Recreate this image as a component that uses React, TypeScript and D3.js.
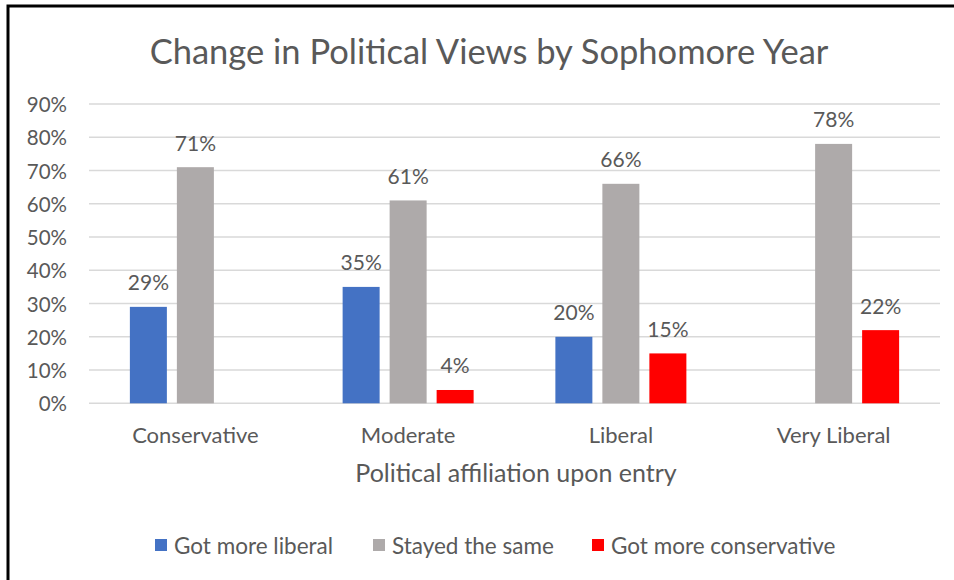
import React from "react";
import * as d3 from "d3";

const categories = ["Conservative", "Moderate", "Liberal", "Very Liberal"];
const seriesNames = ["Got more liberal", "Stayed the same", "Got more conservative"];
const gotMoreLiberal: (number | null)[] = [29, 35, 20, null];
const stayedSame: (number | null)[] = [71, 61, 66, 78];
const gotMoreConservative: (number | null)[] = [null, 4, 15, 22];
const yTicks = [0, 10, 20, 30, 40, 50, 60, 70, 80, 90];
const colors = ["#4472C4", "#AEAAAA", "#FF0000"];

const FONT = "Lato, 'Open Sans', sans-serif";
const TEXT = "#595959";

export default function App() {
  const W = 954, H = 580;
  const x0 = 89, x1 = 940;
  const yTop = 104, yBottom = 403.3;
  const x = d3.scaleBand<string>().domain(categories).range([x0, x1]).padding(0);
  const y = d3.scaleLinear().domain([0, 90]).range([yBottom, yTop]);
  const allSeries = [gotMoreLiberal, stayedSame, gotMoreConservative];
  const sub = d3
    .scaleBand<number>()
    .domain([0, 1, 2])
    .range([-70.5, 70.5])
    .paddingInner(10 / 47)
    .paddingOuter(5 / 47);

  const legendX = [155, 373, 592];

  return (
    <svg width={W} height={H} style={{ position: "absolute", left: 0, top: 0, background: "#fff" }}>
      <rect x={0} y={0} width={W} height={H} fill="#fff" />
      <path d={`M8,${H} L8,6 L${W},6`} fill="none" stroke="#000" strokeWidth={3} />
      <text x={489} y={50} textAnchor="middle" dominantBaseline="central" fontFamily={FONT} fontSize={34.5} fill={TEXT}>
        Change in Political Views by Sophomore Year
      </text>
      {yTicks.map((t) => (
        <g key={t}>
          <line x1={x0} x2={x1} y1={y(t)} y2={y(t)} stroke="#D9D9D9" strokeWidth={1.5} />
          <text x={67} y={y(t)} textAnchor="end" dominantBaseline="central" fontFamily={FONT} fontSize={20.5} fill={TEXT}>
            {t}%
          </text>
        </g>
      ))}
      {categories.map((c, ci) => {
        const cx = (x(c) as number) + x.bandwidth() / 2;
        return (
          <g key={c}>
            {allSeries.map((s, si) => {
              const v = s[ci];
              if (v == null) return null;
              const bx = cx + (sub(si) as number);
              return (
                <g key={si}>
                  <rect x={bx} y={y(v)} width={sub.bandwidth()} height={y(0) - y(v)} fill={colors[si]} />
                  <text
                    x={bx + sub.bandwidth() / 2}
                    y={y(v) - 25}
                    textAnchor="middle"
                    dominantBaseline="central"
                    fontFamily={FONT}
                    fontSize={21}
                    fill={TEXT}
                  >
                    {v}%
                  </text>
                </g>
              );
            })}
            <text x={cx} y={434} textAnchor="middle" dominantBaseline="central" fontFamily={FONT} fontSize={22} fill={TEXT}>
              {c}
            </text>
          </g>
        );
      })}
      <text x={516} y={472} textAnchor="middle" dominantBaseline="central" fontFamily={FONT} fontSize={25} fill={TEXT}>
        Political affiliation upon entry
      </text>
      {seriesNames.map((n, i) => (
        <g key={n}>
          <rect x={legendX[i]} y={539} width={12} height={12} fill={colors[i]} />
          <text x={legendX[i] + 19} y={545} dominantBaseline="central" fontFamily={FONT} fontSize={22.5} fill={TEXT}>
            {n}
          </text>
        </g>
      ))}
    </svg>
  );
}
